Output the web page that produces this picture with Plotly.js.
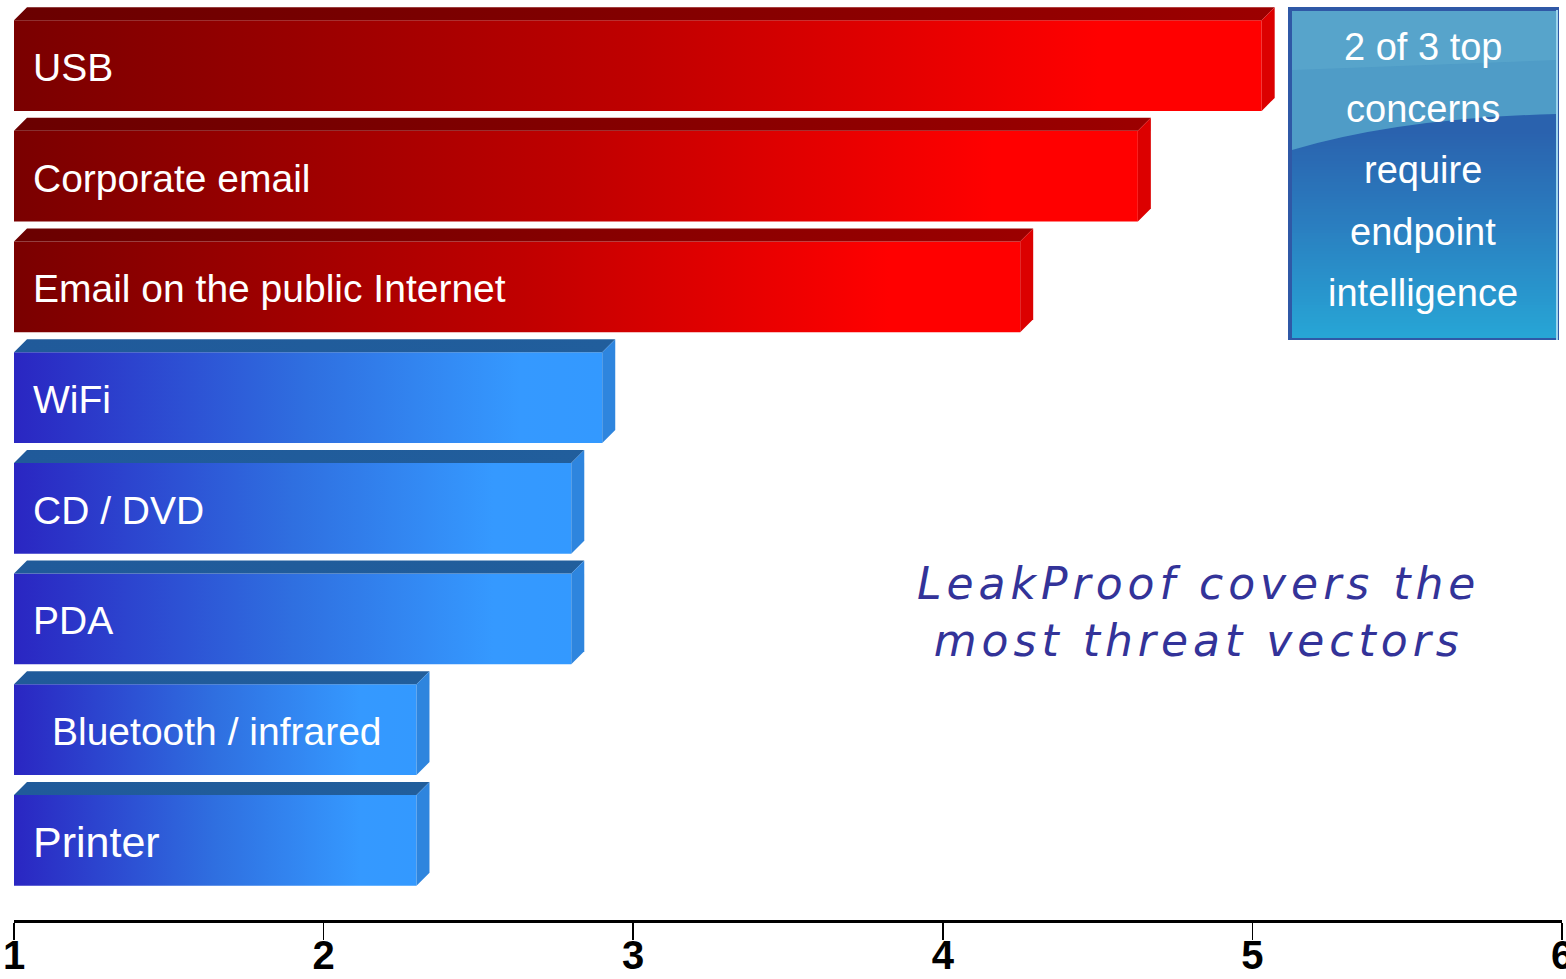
<!DOCTYPE html>
<html>
<head>
<meta charset="utf-8">
<script src="https://cdn.plot.ly/plotly-3.0.1.min.js"></script>
<style>
html,body{margin:0;padding:0;background:#ffffff;}
#chart{width:1566px;height:979px;}
</style>
</head>
<body>
<div id="chart"></div>
<script>
// ---- data ----
const categories = ["USB", "Corporate email", "Email on the public Internet", "WiFi", "CD / DVD", "PDA", "Bluetooth / infrared", "Printer"];
const values = [5.03, 4.63, 4.25, 2.90, 2.80, 2.80, 2.30, 2.30];
const topConcern = [true, true, true, false, false, false, false, false];
const xTicks = [1, 2, 3, 4, 5, 6];
const calloutLines = ["2 of 3 top", "concerns", "require", "endpoint", "intelligence"];
const noteLines = ["LeakProof covers the", "most threat vectors"];

// ---- layout geometry ----
const W = 1566, H = 979;
const M = {l: 14, r: 4, t: 0, b: 59};
const plotW = W - M.l - M.r, plotH = H - M.t - M.b;
const xMin = 1, xMax = 6;
const yMin = -0.592, yMax = 7.72;
const pxPerX = plotW / (xMax - xMin);
const pxPerY = plotH / (yMax - yMin);
const base = xMin;
const half = 0.41;
const DX = 13 / pxPerX, DY = 13 / pxPerY;
const LABELFONT = "'Liberation Sans', Arial, sans-serif";

const px2x = px => (px - M.l) / plotW;
const py2y = py => 1 - (py - M.t) / plotH;

const redFront = [[0, '#7a0000'], [0.5, '#bf0000'], [0.87, '#ff0000'], [1, '#ff0000']];
const blueFront = [[0, '#2a26c2'], [0.5, '#2f6fe0'], [0.86, '#3599ff'], [1, '#3399ff']];
const redTop = [[0, '#6a0000'], [1, '#9c0000']];
const blueTop = [[0, '#205a9a'], [1, '#215e9c']];

const traces = [];
categories.forEach((c, i) => {
  const v = values[i];
  const red = topConcern[i];
  const yt = i - half, yb = i + half;
  // front face
  traces.push({
    type: 'scatter', mode: 'lines', fill: 'toself', hoverinfo: 'skip', showlegend: false,
    x: [base, v, v, base, base], y: [yb, yb, yt, yt, yb],
    line: {width: 0},
    fillgradient: {type: 'horizontal', colorscale: red ? redFront : blueFront}
  });
  // top face
  traces.push({
    type: 'scatter', mode: 'lines', fill: 'toself', hoverinfo: 'skip', showlegend: false,
    x: [base, base + DX, v + DX, v, base], y: [yt, yt - DY, yt - DY, yt, yt],
    line: {width: 0},
    fillgradient: {type: 'horizontal', colorscale: red ? redTop : blueTop}
  });
  // side face
  traces.push({
    type: 'scatter', mode: 'lines', fill: 'toself', hoverinfo: 'skip', showlegend: false,
    x: [v, v + DX, v + DX, v, v], y: [yt, yt - DY, yb - DY, yb, yt],
    line: {width: 0},
    fillcolor: red ? '#dc0000' : '#2e85de'
  });
});

// ---- annotations ----
const annotations = categories.map((c, i) => ({
  x: base, y: i, xref: 'x', yref: 'y', xanchor: 'left', yanchor: 'middle',
  xshift: c.startsWith('Bluetooth') ? 36 : 17, yshift: -2,
  text: c, showarrow: false,
  font: {family: LABELFONT, size: c === 'Printer' ? 43 : 39, color: '#ffffff'}
}));
const calloutY = [45, 107, 168, 230, 291];
calloutLines.forEach((t, k) => {
  annotations.push({
    x: px2x(1423), y: py2y(calloutY[k] + 2), xref: 'paper', yref: 'paper',
    xanchor: 'center', yanchor: 'middle', showarrow: false, text: t,
    font: {family: LABELFONT, size: 38, color: '#ffffff'}
  });
});
annotations.push({
  x: px2x(1198), y: py2y(612), xref: 'paper', yref: 'paper',
  xanchor: 'center', yanchor: 'middle', showarrow: false, align: 'center',
  text: noteLines.join('<br>'),
  font: {family: "'DejaVu Sans', sans-serif", size: 44, style: 'italic', color: '#333399'}
});

// ---- callout box (decoration) ----
const shapes = [];
const bx0 = 1288, bx1 = 1559, by0 = 7, by1 = 340;
shapes.push({type: 'rect', xref: 'paper', yref: 'paper', layer: 'below',
  x0: px2x(bx0), x1: px2x(bx1), y0: py2y(by0), y1: py2y(by1),
  fillcolor: '#2f58a6', line: {width: 0}});
function hex(h){return [parseInt(h.slice(1,3),16),parseInt(h.slice(3,5),16),parseInt(h.slice(5,7),16)];}
function mix(a,b,t){const A=hex(a),B=hex(b);return 'rgb('+A.map((v,k)=>Math.round(v+(B[k]-v)*t)).join(',')+')';}
const stops = [[11, '#2a5fab'], [130, '#2a62ae'], [220, '#2a7dbf'], [338, '#27a6d6']];
for (let y = 11; y < 338; y += 3) {
  let col = stops[0][1];
  for (let s = 0; s < stops.length - 1; s++) {
    if (y >= stops[s][0] && y <= stops[s + 1][0]) {
      col = mix(stops[s][1], stops[s + 1][1], (y - stops[s][0]) / (stops[s + 1][0] - stops[s][0]));
    }
  }
  shapes.push({type: 'rect', xref: 'paper', yref: 'paper', layer: 'below',
    x0: px2x(bx0 + 4), x1: px2x(bx1 - 3), y0: py2y(y), y1: py2y(Math.min(y + 3.6, 338)),
    fillcolor: col, line: {width: 0}});
}
// glossy light top
const gx0 = px2x(bx0 + 4), gx1 = px2x(bx1 - 3);
shapes.push({type: 'path', xref: 'paper', yref: 'paper', layer: 'below',
  path: `M ${gx0} ${py2y(11)} L ${gx1} ${py2y(11)} L ${gx1} ${py2y(114)} Q ${px2x(1400)} ${py2y(118)} ${gx0} ${py2y(150)} Z`,
  fillcolor: '#4f9cc7', line: {width: 0}});
shapes.push({type: 'path', xref: 'paper', yref: 'paper', layer: 'below',
  path: `M ${gx0} ${py2y(11)} L ${gx1} ${py2y(11)} L ${gx1} ${py2y(60)} L ${gx0} ${py2y(70)} Z`,
  fillcolor: '#5eabcd', opacity: 0.55, line: {width: 0}});
shapes.push({type: 'line', xref: 'paper', yref: 'paper', layer: 'below',
  x0: px2x(bx1 - 2), x1: px2x(bx1 - 2), y0: py2y(10), y1: py2y(by1),
  line: {color: '#9fd6ec', width: 2}});

const layout = {
  width: W, height: H,
  margin: M,
  paper_bgcolor: '#ffffff', plot_bgcolor: '#ffffff',
  showlegend: false,
  xaxis: {
    range: [xMin, xMax], tickvals: xTicks, ticktext: xTicks.map(String),
    showgrid: false, zeroline: false, showline: true, linecolor: '#000000', linewidth: 3,
    ticks: 'outside', ticklen: 17, tickwidth: 1.5, tickcolor: '#000000',
    ticklabelstandoff: -19, ticklabeloverflow: 'allow',
    tickfont: {family: "'Liberation Sans', Arial, sans-serif", size: 40, weight: 'bold', color: '#000000'},
    fixedrange: true
  },
  yaxis: {
    range: [yMax, yMin], showgrid: false, zeroline: false, showline: false,
    showticklabels: false, ticks: '', fixedrange: true
  },
  annotations: annotations,
  shapes: shapes
};

Plotly.newPlot('chart', traces, layout, {displayModeBar: false, staticPlot: true}).then(() => {
  document.querySelectorAll('.annotation-text').forEach(el => {
    if (el.textContent.indexOf('LeakProof') >= 0) {
      el.style.letterSpacing = '5px';
    }
  });
});
</script>
</body>
</html>
